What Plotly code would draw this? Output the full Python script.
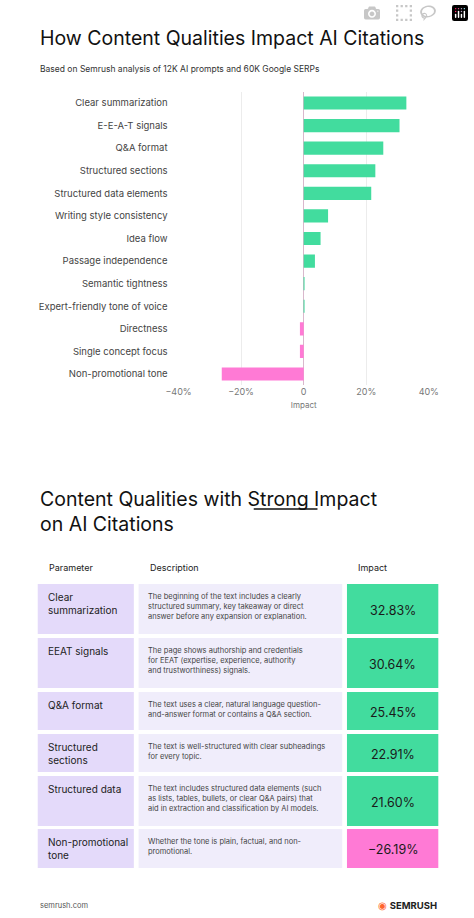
import plotly.graph_objects as go

W, H = 474, 918
categories = ["Clear summarization", "E-E-A-T signals", "Q&A format", "Structured sections",
              "Structured data elements", "Writing style consistency", "Idea flow",
              "Passage independence", "Semantic tightness", "Expert-friendly tone of voice",
              "Directness", "Single concept focus", "Non-promotional tone"]
impacts = [32.83, 30.64, 25.45, 22.91, 21.60, 7.8, 5.4, 3.6, 0.15, 0.15, -1.2, -1.2, -26.19]
x_ticks = [-40, -20, 0, 20, 40]
x_tick_labels = ["−40%", "−20%", "0", "20%", "40%"]

table_headers = ["Parameter", "Description", "Impact"]
table_params = ["Clear<br>summarization", "EEAT signals", "Q&A format", "Structured<br>sections",
                "Structured data", "Non-promotional<br>tone"]
table_desc = [
    "The beginning of the text includes a clearly<br>structured summary, key takeaway or direct<br>answer before any expansion or explanation.",
    "The page shows authorship and credentials<br>for EEAT (expertise, experience, authority<br>and trustworthiness) signals.",
    "The text uses a clear, natural language question-<br>and-answer format or contains a Q&A section.",
    "The text is well-structured with clear subheadings<br>for every topic.",
    "The text includes structured data elements (such<br>as lists, tables, bullets, or clear Q&A pairs) that<br>aid in extraction and classification by AI models.",
    "Whether the tone is plain, factual, and non-<br>promotional.",
]
table_impacts = [32.83, 30.64, 25.45, 22.91, 21.60, -26.19]

GREEN = "#42DC9E"
PINK = "#FF7AD5"
LAV = "#E4DAFA"
LAV2 = "#F0EDFB"
FONT = "Inter"

def py(p):
    return 1 - p / H

def px(p):
    return p / W

fig = go.Figure(go.Bar(
    x=impacts, y=categories, orientation="h", width=0.58,
    marker=dict(color=[GREEN if v >= 0 else PINK for v in impacts], line=dict(width=0)),
    hoverinfo="skip"))

fig.update_layout(
    width=W, height=H, margin=dict(l=0, r=0, t=0, b=0),
    paper_bgcolor="white", plot_bgcolor="white", showlegend=False,
    font=dict(family=FONT, color="#333"),
    xaxis=dict(domain=[px(174), px(437)], range=[-40, 40], tickvals=x_ticks, ticktext=x_tick_labels,
               showgrid=True, gridcolor="#ECECEC", gridwidth=1, zeroline=True, zerolinecolor="#D9B8CC",
               zerolinewidth=1, tickfont=dict(size=9, color="#777"), ticks="",
               title=dict(text="Impact", font=dict(size=8, color="#777"), standoff=6), fixedrange=True),
    yaxis=dict(domain=[py(385.3), py(91.7)], autorange="reversed", tickfont=dict(size=9.5, color="#444"),
               ticks="", ticklabelstandoff=10, showgrid=False, fixedrange=True),
)

ann = []
shapes = []
ann.append(dict(text="How Content Qualities Impact AI Citations", x=px(26), y=py(38), xref="paper", yref="paper",
                xanchor="left", yanchor="middle", showarrow=False, font=dict(size=19.5, color="#111", family=FONT)))
ann.append(dict(text="Based on Semrush analysis of 12K AI prompts and 60K Google SERPs", x=px(26), y=py(69),
                xref="paper", yref="paper", xanchor="left", yanchor="middle", showarrow=False,
                font=dict(size=8.5, color="#333", family=FONT)))
ann.append(dict(text="Content Qualities with Strong Impact<br>on AI Citations", x=px(26), y=py(511),
                xref="paper", yref="paper", xanchor="left", yanchor="middle", align="left", showarrow=False,
                font=dict(size=19.5, color="#111", family=FONT)))
shapes.append(dict(type="line", xref="paper", yref="paper", x0=px(253), x1=px(320), y0=py(509), y1=py(509),
                   line=dict(color="#111", width=1.5)))

col_x = [(26, 127), (132, 346), (351, 447)]
row_y = [(584, 634), (638, 688), (692, 730), (734, 772), (776, 826), (829, 868)]
for (x0, x1), h in zip(col_x, table_headers):
    xx = 360 if h == "Impact" else x0 + 10
    ann.append(dict(text=h, x=px(xx), y=py(567), xref="paper", yref="paper", xanchor="left", yanchor="middle",
                    showarrow=False, font=dict(size=9, color="#222", family=FONT)))
for i, (y0, y1) in enumerate(row_y):
    fills = [LAV, LAV2, GREEN if table_impacts[i] >= 0 else PINK]
    for (x0, x1), f in zip(col_x, fills):
        shapes.append(dict(type="rect", xref="paper", yref="paper", x0=px(x0), x1=px(x1), y0=py(y1), y1=py(y0),
                           fillcolor=f, line=dict(width=0), layer="below"))
    ann.append(dict(text=table_params[i], x=px(35), y=py(y0 + 5), xref="paper", yref="paper", xanchor="left",
                    yanchor="top", align="left", showarrow=False, font=dict(size=10, color="#222", family=FONT)))
    ann.append(dict(text=table_desc[i], x=px(140), y=py(y0 + 6), xref="paper", yref="paper", xanchor="left",
                    yanchor="top", align="left", showarrow=False, font=dict(size=7.5, color="#444", family=FONT)))
    v = table_impacts[i]
    txt = (f"{v:.2f}%" if v >= 0 else f"−{abs(v):.2f}%")
    ann.append(dict(text=txt, x=px((col_x[2][0] + col_x[2][1]) / 2), y=py((y0 + y1) / 2 + 1), xref="paper",
                    yref="paper", xanchor="center", yanchor="middle", showarrow=False,
                    font=dict(size=12.5, color="#1a1a1a", family=FONT)))

ann.append(dict(text="semrush.com", x=px(26), y=py(905), xref="paper", yref="paper", xanchor="left",
                yanchor="middle", showarrow=False, font=dict(size=7.5, color="#555", family=FONT)))
ann.append(dict(text="<span style='color:#FF642D'>◉</span> <b>SEMRUSH</b>", x=px(448), y=py(905), xref="paper",
                yref="paper", xanchor="right", yanchor="middle", showarrow=False,
                font=dict(size=9.5, color="#222", family=FONT)))

fig.update_layout(annotations=ann, shapes=shapes)
fig.write_html("out.html", post_script="document.body.style.margin='0';document.body.style.overflow='hidden';")
